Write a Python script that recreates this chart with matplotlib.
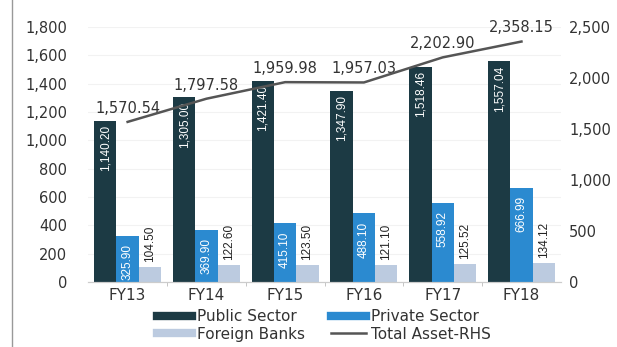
import matplotlib.pyplot as plt
import matplotlib.lines as mlines
import numpy as np

plt.rcParams['font.family'] = ['DejaVu Sans']

years = ['FY13', 'FY14', 'FY15', 'FY16', 'FY17', 'FY18']
public = [1140.20, 1305.00, 1421.40, 1347.90, 1518.46, 1557.04]
private = [325.90, 369.90, 415.10, 488.10, 558.92, 666.99]
foreign = [104.50, 122.60, 123.50, 121.10, 125.52, 134.12]
total_assets = [1570.54, 1797.58, 1959.98, 1957.03, 2202.90, 2358.15]

c_pub = '#1c3a44'
c_priv = '#2b8ad0'
c_for = '#bccbe0'
c_line = '#555555'
c_text = '#333333'
narrow = ['Liberation Sans', 'DejaVu Sans']

fig = plt.figure(figsize=(6.17, 3.47), dpi=100)
ax = fig.add_axes([0.143, 0.187, 0.766, 0.735])
ax2 = ax.twinx()

x = np.arange(len(years))
w = 0.283

ax.bar(x - w, public, w, color=c_pub, zorder=2)
ax.bar(x, private, w, color=c_priv, zorder=2)
ax.bar(x + w, foreign, w, color=c_for, zorder=2)

# value labels, rotated inside / above the bars
for i in range(len(years)):
    ax.text(x[i] - w, public[i] - 30, '{:,.2f}'.format(public[i]),
            rotation=90, ha='center', va='top', color='white',
            fontsize=8.5, family=narrow, zorder=3)
    ax.text(x[i], private[i] - 60, '{:,.2f}'.format(private[i]),
            rotation=90, ha='center', va='top', color='white',
            fontsize=8.5, family=narrow, zorder=3)
    ax.text(x[i] + w, foreign[i] + 35, '{:,.2f}'.format(foreign[i]),
            rotation=90, ha='center', va='bottom', color='#222222',
            fontsize=8.5, family=narrow, zorder=3)

ax.set_ylim(0, 1800)
ax.set_yticks(np.arange(0, 1801, 200))
ax.set_yticklabels(['{:,}'.format(v) for v in range(0, 1801, 200)])
ax.set_xlim(-0.5, len(years) - 0.5)
ax.set_xticks(x)
ax.set_xticklabels(years, fontsize=11, color=c_text)
ax.set_xticks(np.arange(0.5, len(years) - 0.5, 1), minor=True)
ax.tick_params(axis='x', which='major', length=0, pad=4)
ax.tick_params(axis='x', which='minor', length=3, color='#bbbbbb')
ax.tick_params(axis='y', length=0, labelsize=10.5, labelcolor=c_text, pad=15)
ax.grid(axis='y', color='#f2f2f2', linewidth=0.8, zorder=0)
ax.set_axisbelow(True)

ax2.plot(x, total_assets, color=c_line, linewidth=1.8, zorder=4)
for i in range(len(years)):
    ax2.text(x[i], total_assets[i] + 60, '{:,.2f}'.format(total_assets[i]),
             ha='center', va='bottom', fontsize=10.5, color=c_text)
ax2.set_ylim(0, 2500)
ax2.set_yticks(np.arange(0, 2501, 500))
ax2.set_yticklabels(['{:,}'.format(v) for v in range(0, 2501, 500)])
ax2.tick_params(axis='y', length=0, labelsize=10.5, labelcolor=c_text, pad=6)

for a in (ax, ax2):
    for side in ('top', 'left', 'right'):
        a.spines[side].set_visible(False)
    a.spines['bottom'].set_color('#cccccc')

# legend fills column-wise, so order gives rows: Public/Private, Foreign/Total
handles = [
    mlines.Line2D([], [], color=c_pub, linewidth=6),
    mlines.Line2D([], [], color=c_for, linewidth=6),
    mlines.Line2D([], [], color=c_priv, linewidth=6),
    mlines.Line2D([], [], color=c_line, linewidth=1.8),
]
labels = ['Public Sector', 'Foreign Banks', 'Private Sector', 'Total Asset-RHS']
fig.legend(handles, labels, loc='upper center', bbox_to_anchor=(0.525, 0.148),
           ncol=2, frameon=False, fontsize=11, handlelength=2.3,
           handletextpad=0.3, columnspacing=1.7, labelspacing=0.15,
           labelcolor=c_text)

# thin frame line on the left edge
fig.add_artist(mlines.Line2D([0.02, 0.02], [0.0, 1.0], color='#999999',
                             linewidth=1, transform=fig.transFigure))

fig.savefig('out.png', dpi=100)
